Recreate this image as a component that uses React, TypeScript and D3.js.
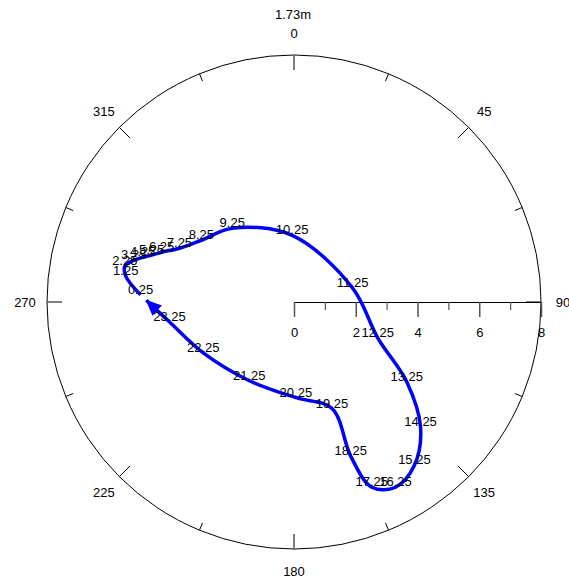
import React, { useEffect, useRef } from 'react';
import * as d3 from 'd3';

// hour of each sample and its east (u) / north (v) component
const hours = [0.25, 1.25, 2.25, 3.25, 4.25, 5.25, 6.25, 7.25, 8.25, 9.25, 10.25, 11.25,
  12.25, 13.25, 14.25, 15.25, 16.25, 17.25, 18.25, 19.25, 20.25, 21.25, 22.25, 23.25];
const uVals = [-4.97, -5.45, -5.48, -5.19, -4.9, -4.61, -4.29, -3.71, -3.0, -2.0, -0.06, 1.9,
  2.71, 3.65, 4.1, 3.9, 3.29, 2.52, 1.84, 1.23, 0.06, -1.45, -2.94, -4.03];
const vVals = [0.23, 0.84, 1.16, 1.35, 1.45, 1.52, 1.61, 1.74, 2.0, 2.39, 2.16, 0.45,
  -1.16, -2.58, -4.06, -5.29, -6.0, -6.0, -5.0, -3.45, -3.1, -2.55, -1.65, -0.65];

const title = '1.73m';
const compassLabels = [0, 45, 90, 135, 180, 225, 270, 315];
const axisMajor = [0, 2, 4, 6, 8];
const axisMinor = [1, 3, 5, 7];
const maxSpeed = 8;

const W = 569;
const H = 579;
const cx = 294;
const cy = 302;
const R = 247;
const font = 'Liberation Sans, Arial, sans-serif';

export default function App() {
  const axisRef = useRef<SVGGElement>(null);
  const minorRef = useRef<SVGGElement>(null);

  const x = d3.scaleLinear().domain([-maxSpeed, maxSpeed]).range([cx - R, cx + R]);
  const y = d3.scaleLinear().domain([-maxSpeed, maxSpeed]).range([cy + R, cy - R]);
  const axisScale = d3.scaleLinear().domain([0, maxSpeed]).range([cx, cx + R]);

  const pts: [number, number][] = hours.map((h, i) => [x(uVals[i]), y(vVals[i])]);
  // arrow runs from the last sample most of the way back to the first
  const last = pts[pts.length - 1];
  const first = pts[0];
  const f = 0.8;
  const arrowEnd: [number, number] = [last[0] + (first[0] - last[0]) * f, last[1] + (first[1] - last[1]) * f];

  const line = d3.line().curve(d3.curveCatmullRom.alpha(0.5));
  const pathD = line([...pts, arrowEnd]) || '';

  useEffect(() => {
    const g = d3.select(axisRef.current!);
    g.call(d3.axisBottom(axisScale).tickValues(axisMajor).tickSize(15).tickSizeOuter(0).tickPadding(11).tickFormat(d3.format('d')));
    g.select('.domain').attr('stroke', '#000');
    g.selectAll('.tick line').attr('stroke', '#555').attr('stroke-width', 1.5);
    g.selectAll('.tick text').attr('font-size', 13).attr('font-family', font).attr('fill', '#000');
    const m = d3.select(minorRef.current!);
    m.call(d3.axisBottom(axisScale).tickValues(axisMinor).tickSize(8).tickSizeOuter(0).tickFormat(() => ''));
    m.select('.domain').remove();
    m.selectAll('.tick line').attr('stroke', '#555').attr('stroke-width', 1.2);
  }, []);

  const angles = d3.range(0, 360, 22.5);

  return (
    <svg width={W} height={H} style={{ position: 'absolute', left: 0, top: 0, background: '#fff' }}>
      <defs>
        <marker id="arrow" markerUnits="userSpaceOnUse" markerWidth={17} markerHeight={14}
          refX={15} refY={7} orient="auto">
          <path d="M0,0 L16,7 L0,14 Z" fill="#0000ff" />
        </marker>
      </defs>
      <circle cx={cx} cy={cy} r={R} fill="none" stroke="#000" strokeWidth={1} />
      {angles.map((a) => {
        const rad = (a * Math.PI) / 180;
        const isMajor = a % 45 === 0;
        const isCardinal = a % 90 === 0;
        const len = isMajor ? 15 : 8;
        return (
          <line key={a}
            x1={cx + R * Math.sin(rad)} y1={cy - R * Math.cos(rad)}
            x2={cx + (R - len) * Math.sin(rad)} y2={cy - (R - len) * Math.cos(rad)}
            stroke={isCardinal ? '#555' : '#000'} strokeWidth={isCardinal ? 1.5 : 1} />
        );
      })}
      {compassLabels.map((a) => {
        const rad = (a * Math.PI) / 180;
        const rr = R + 22;
        return (
          <text key={a} x={cx + rr * Math.sin(rad)} y={cy - rr * Math.cos(rad)} dy="0.35em"
            textAnchor="middle" fontSize={13} fontFamily={font}>{a}</text>
        );
      })}
      <text x={cx - 1} y={cy - R - 41} dy="0.35em" textAnchor="middle" fontSize={13} fontFamily={font}>{title}</text>
      <g ref={axisRef} transform={`translate(0,${cy})`} />
      <g ref={minorRef} transform={`translate(0,${cy})`} />
      <path d={pathD} fill="none" stroke="#0000ff" strokeWidth={3.5} strokeLinejoin="round" markerEnd="url(#arrow)" />
      {hours.map((h, i) => (
        <text key={h} x={pts[i][0]} y={pts[i][1] - 1} textAnchor="middle" fontSize={13} fontFamily={font}>{h.toFixed(2)}</text>
      ))}
    </svg>
  );
}
